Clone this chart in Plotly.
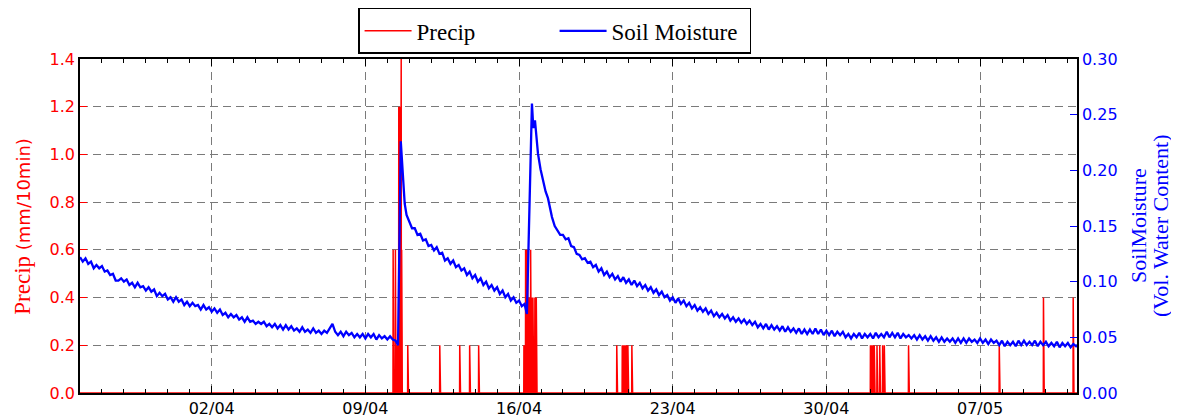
import pandas as pd
import plotly.graph_objects as go

START = pd.Timestamp("2013-03-27 00:00")

# ---------------- Precipitation events (hours since START, mm/10min) -------------
precip_hours = [342.3, 343.0, 344.9, 345.7, 346.6, 347.7, 348.5, 349.2, 349.9, 350.7,
                351.2, 351.7, 352.1, 358.3, 393.3, 415.1, 426.0, 435.9,
                485.4, 486.7, 487.2, 488.0, 488.6, 489.4, 490.2, 491.0, 491.9, 492.7,
                493.4, 494.1, 495.2, 496.3, 497.4, 498.9,
                586.9, 592.8, 593.7, 594.6, 595.5, 596.4, 597.5, 599.0, 603.3,
                864.1, 865.2, 866.6, 868.4, 871.4, 874.4, 877.5, 879.4, 905.9,
                1005.0, 1053.4, 1085.8]
precip_values = [0.6, 0.2, 0.6, 0.2, 0.2, 0.2, 1.2, 0.6, 1.2, 1.4,
                 1.4, 0.6, 0.2, 0.2, 0.2, 0.2, 0.2, 0.2,
                 0.2, 0.2, 0.6, 0.6, 0.4, 0.6, 0.2, 0.4, 0.2, 0.6,
                 0.6, 0.4, 0.4, 0.2, 0.4, 0.4,
                 0.2, 0.2, 0.2, 0.2, 0.2, 0.2, 0.2, 0.2, 0.2,
                 0.2, 0.2, 0.2, 0.2, 0.2, 0.2, 0.2, 0.2, 0.2,
                 0.2, 0.4, 0.4]

# ---------------- Soil moisture (vol. water content) ----------------------------
# segment 1: every 3 h from hour 0 (27/03 00:00)
sm_seg1 = [
    0.122, 0.118, 0.121, 0.116, 0.118, 0.112, 0.115, 0.112,
    0.114, 0.109, 0.110, 0.106, 0.107, 0.101, 0.101, 0.103,
    0.100, 0.102, 0.097, 0.099, 0.095, 0.099, 0.095, 0.096,
    0.092, 0.095, 0.091, 0.093, 0.087, 0.090, 0.087, 0.089,
    0.084, 0.086, 0.082, 0.086, 0.082, 0.084, 0.079, 0.082,
    0.078, 0.081, 0.078, 0.079, 0.075, 0.079, 0.075, 0.077,
    0.073, 0.076, 0.072, 0.075, 0.070, 0.072, 0.068, 0.071,
    0.068, 0.070, 0.066, 0.068, 0.064, 0.068, 0.064, 0.065,
    0.062, 0.064, 0.062, 0.064, 0.060, 0.062, 0.059, 0.062,
    0.058, 0.061, 0.057, 0.061, 0.057, 0.060, 0.056, 0.058,
    0.055, 0.059, 0.055, 0.057, 0.054, 0.058, 0.054, 0.056,
    0.053, 0.056, 0.054, 0.058, 0.062, 0.055, 0.052, 0.055,
    0.051, 0.055, 0.052, 0.054, 0.050, 0.053, 0.050, 0.053,
    0.049, 0.053, 0.050, 0.053, 0.048, 0.052, 0.049, 0.051,
    0.048, 0.051, 0.048]
# first rain event (irregular times, hours since START)
sm_ev1_hours = [345.0, 347.7, 350.7, 351.4, 353.0, 355.0, 357.0, 360.0, 363.0]
sm_ev1_values = [0.047, 0.043, 0.226, 0.215, 0.192, 0.170, 0.160, 0.153, 0.148]
# segment 2: every 3 h from hour 366
sm_seg2 = [
    0.148, 0.142, 0.143, 0.137, 0.138, 0.132, 0.133, 0.128,
    0.131, 0.125, 0.126, 0.119, 0.121, 0.116, 0.119, 0.113,
    0.115, 0.110, 0.112, 0.106, 0.109, 0.103, 0.106, 0.100,
    0.103, 0.097, 0.100, 0.094, 0.097, 0.092, 0.095, 0.089,
    0.092, 0.086, 0.089, 0.083, 0.086, 0.081, 0.083, 0.078,
    0.080]
# second rain event
sm_ev2_hours = [487.5, 488.6, 494.1, 495.6, 497.4, 500.7, 503.5, 506.1, 509.0, 511.6, 514.0]
sm_ev2_values = [0.076, 0.071, 0.260, 0.238, 0.245, 0.215, 0.201, 0.191, 0.181, 0.175, 0.165]
# segment 3: every 3 h from hour 516
sm_seg3 = [
    0.158, 0.150, 0.146, 0.142,
    0.142, 0.138, 0.139, 0.132, 0.131, 0.125, 0.124, 0.120,
    0.121, 0.117, 0.118, 0.113, 0.115, 0.109, 0.112, 0.106,
    0.109, 0.104, 0.107, 0.102, 0.105, 0.100, 0.104, 0.099,
    0.102, 0.097, 0.101, 0.096, 0.099, 0.094, 0.097, 0.092,
    0.095, 0.090, 0.093, 0.088, 0.091, 0.086, 0.088, 0.083,
    0.086, 0.081, 0.085, 0.080, 0.083, 0.078, 0.081, 0.076,
    0.079, 0.074, 0.077, 0.073, 0.076, 0.071, 0.074, 0.069,
    0.072, 0.068, 0.071, 0.067, 0.070, 0.065, 0.068, 0.064,
    0.067, 0.063, 0.066, 0.062, 0.065, 0.061, 0.064, 0.059,
    0.062, 0.058, 0.062, 0.057, 0.061, 0.057, 0.060, 0.056,
    0.060, 0.055, 0.059, 0.055, 0.058, 0.054, 0.058, 0.053,
    0.057, 0.053, 0.057, 0.053, 0.058, 0.053, 0.057, 0.052,
    0.056, 0.052, 0.056, 0.051, 0.055, 0.052, 0.055, 0.050,
    0.053, 0.049, 0.053, 0.050, 0.054, 0.049, 0.053, 0.050,
    0.053, 0.049, 0.054, 0.050, 0.053, 0.050, 0.055, 0.050,
    0.054, 0.050, 0.054, 0.049, 0.053, 0.050, 0.052, 0.049,
    0.052, 0.048, 0.052, 0.048, 0.051, 0.047, 0.051, 0.047,
    0.050, 0.046, 0.050, 0.046, 0.049, 0.046, 0.049, 0.045,
    0.049, 0.045, 0.049, 0.045, 0.049, 0.046, 0.048, 0.045,
    0.049, 0.045, 0.048, 0.044, 0.048, 0.045, 0.047, 0.043,
    0.047, 0.042, 0.046, 0.043, 0.046, 0.042, 0.047, 0.043,
    0.047, 0.043, 0.046, 0.043, 0.047, 0.042, 0.046, 0.043,
    0.046, 0.042, 0.045, 0.042, 0.046, 0.041, 0.045, 0.042,
    0.045, 0.041, 0.044, 0.042, 0.044]

x_tick_start = "2013-04-02"
x_range = ["2013-03-27 00:00", "2013-05-11 10:00"]

# ---------------- build series ---------------------------------------------------
sm_hours = ([3 * i for i in range(len(sm_seg1))] + sm_ev1_hours +
            [366 + 3 * i for i in range(len(sm_seg2))] + sm_ev2_hours +
            [516 + 3 * i for i in range(len(sm_seg3))])
sm_vals = sm_seg1 + sm_ev1_values + sm_seg2 + sm_ev2_values + sm_seg3
sm_time = [START + pd.Timedelta(hours=h) for h in sm_hours]

p_index = pd.date_range(START, START + pd.Timedelta(hours=1092), freq="10min")
p_series = pd.Series(0.0, index=p_index)
for h, v in zip(precip_hours, precip_values):
    t = (START + pd.Timedelta(hours=h)).round("10min")
    p_series[t] = v

fig = go.Figure()
fig.add_trace(go.Scatter(x=p_series.index, y=p_series.values, mode="lines",
                         name="Precip", line=dict(color="#ff0000", width=1.5),
                         yaxis="y"))
fig.add_trace(go.Scatter(x=sm_time, y=sm_vals, mode="lines", name="Soil Moisture",
                         line=dict(color="#0000ff", width=2.3), yaxis="y2"))

grid = dict(showgrid=True, gridcolor="#7a7a7a", gridwidth=1, griddash="8px,5px")
fig.update_layout(
    width=1171, height=410,
    margin=dict(l=72, r=102, t=51, b=25, autoexpand=False),
    paper_bgcolor="white", plot_bgcolor="white",
    showlegend=True,
    legend=dict(orientation="h", x=0.476, xanchor="center", y=1.153, yanchor="top",
                bordercolor="black", borderwidth=1.5, bgcolor="white",
                font=dict(family="Liberation Serif", size=23, color="black"),
                itemwidth=47, entrywidth=133, entrywidthmode="pixels"),
    xaxis=dict(type="date", range=x_range, tick0=x_tick_start, dtick=7 * 86400000,
               tickformat="%d/%m", ticks="inside", ticklen=7, tickcolor="black",
               tickwidth=1, showline=True, linecolor="black", linewidth=1.5,
               mirror="ticks", zeroline=False,
               tickfont=dict(family="DejaVu Sans", size=16, color="black"),
               minor=dict(dtick=86400000, tick0=x_tick_start, ticks="inside",
                          ticklen=4, tickcolor="black", showgrid=False),
               **grid),
    yaxis=dict(range=[0, 1.4], dtick=0.2, tickformat=".1f", ticks="inside",
               ticklen=7, tickcolor="#ff0000", showline=True, linecolor="black",
               linewidth=1.5, zeroline=False,
               tickfont=dict(family="DejaVu Sans", size=16, color="#ff0000"),
               **grid),
    yaxis2=dict(range=[0, 0.30], dtick=0.05, tickformat=".2f", overlaying="y",
                side="right", ticks="inside", ticklen=7, tickcolor="#0000ff",
                showline=True, linecolor="black", linewidth=1.5, zeroline=False,
                showgrid=False,
                tickfont=dict(family="DejaVu Sans", size=16, color="#0000ff")),
)

fig.add_annotation(xref="paper", yref="paper", x=-0.0585, y=0.5, textangle=-90,
                   showarrow=False, xanchor="center", yanchor="middle",
                   text='<span style="font-family:Liberation Serif;font-size:23px">Precip</span> (mm/10min)',
                   font=dict(family="DejaVu Sans", size=18, color="#ff0000"))
fig.add_annotation(xref="paper", yref="paper", x=1.0612, y=0.5, textangle=-90,
                   showarrow=False, xanchor="center", yanchor="middle",
                   text="SoilMoisture",
                   font=dict(family="Liberation Serif", size=22, color="#0000ff"))
fig.add_annotation(xref="paper", yref="paper", x=1.0833, y=0.5, textangle=-90,
                   showarrow=False, xanchor="center", yanchor="middle",
                   text="(Vol. Water Content)",
                   font=dict(family="Liberation Serif", size=22, color="#0000ff"))

fig.write_html("out.html")
